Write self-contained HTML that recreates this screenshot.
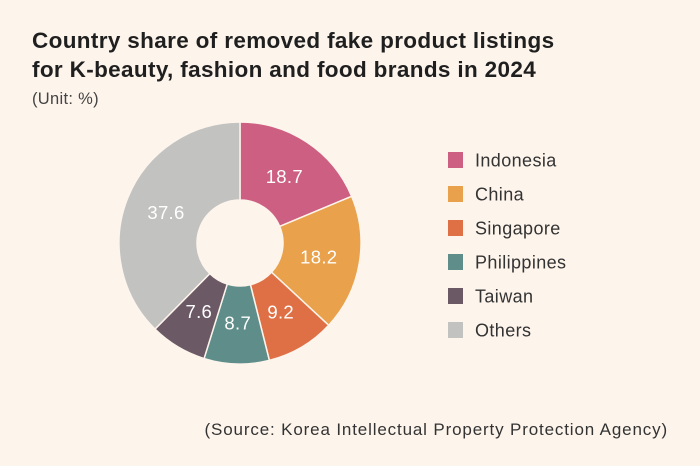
<!DOCTYPE html>
<html><head><meta charset="utf-8"><style>
body{margin:0;background:#fdf4ec;font-family:"Liberation Sans",sans-serif;}
#c{position:relative;width:700px;height:466px;background:#fdf4ec;overflow:hidden}
.t{position:absolute;left:32px;font-weight:bold;font-size:22.5px;letter-spacing:0.35px;color:#1f1f1f;line-height:29px}
</style></head><body>
<div id="c">
<div class="t" style="top:26px">Country share of removed fake product listings<br>for K-beauty, fashion and food brands in 2024</div>
<div style="position:absolute;left:32px;top:90px;font-size:16.5px;letter-spacing:0.3px;color:#444">(Unit: %)</div>
<svg id="s" width="700" height="466" style="position:absolute;left:0;top:0"></svg>
<div style="position:absolute;right:32px;top:420px;font-size:17px;letter-spacing:0.85px;color:#333;white-space:nowrap">(Source: Korea Intellectual Property Protection Agency)</div>
</div>
<script>
const categories=["Indonesia","China","Singapore","Philippines","Taiwan","Others"];
const values=[18.7,18.2,9.2,8.7,7.6,37.6];
const colors=["#cd5f82","#e9a14b","#df7046","#5f8d89","#6b5965","#c2c2c0"];
const svg=document.getElementById('s');const NS="http://www.w3.org/2000/svg";
const cx=240,cy=243,R=121,r=43,LR=80;
const total=values.reduce((a,b)=>a+b,0);
let a0=0;
function pt(rad,ang){return [cx+rad*Math.sin(ang),cy-rad*Math.cos(ang)];}
values.forEach((v,i)=>{
  const a1=a0+v/total*2*Math.PI;const lg=(a1-a0)>Math.PI?1:0;
  const [x0,y0]=pt(R,a0),[x1,y1]=pt(R,a1),[x2,y2]=pt(r,a1),[x3,y3]=pt(r,a0);
  const p=document.createElementNS(NS,'path');
  p.setAttribute('d',`M${x0},${y0}A${R},${R} 0 ${lg} 1 ${x1},${y1}L${x2},${y2}A${r},${r} 0 ${lg} 0 ${x3},${y3}Z`);
  p.setAttribute('fill',colors[i]);p.setAttribute('stroke','#fdf4ec');p.setAttribute('stroke-width','1.5');
  
  
  svg.appendChild(p);
  const m=(a0+a1)/2;const [lx,ly]=pt(LR,m);
  const t=document.createElementNS(NS,'text');
  t.setAttribute('x',lx);t.setAttribute('y',ly+6.5);t.setAttribute('text-anchor','middle');
  t.setAttribute('fill','#fff');t.setAttribute('font-size','18.5');t.setAttribute('font-family','Liberation Sans, sans-serif');
  t.setAttribute('letter-spacing','0.3');
  t.textContent=v;
  
  
  svg.appendChild(t);
  a0=a1;
});
categories.forEach((c,i)=>{
  const y=160+i*34;
  const g=document.createElementNS(NS,'g');
  
  
  const rc=document.createElementNS(NS,'rect');
  rc.setAttribute('x',448);rc.setAttribute('y',y-8);rc.setAttribute('width',15);rc.setAttribute('height',16);rc.setAttribute('fill',colors[i]);
  const t=document.createElementNS(NS,'text');
  t.setAttribute('x',475);t.setAttribute('y',y+6.5);t.setAttribute('font-size','18');t.setAttribute('letter-spacing','0.4');t.setAttribute('fill','#333');t.setAttribute('font-family','Liberation Sans, sans-serif');
  t.textContent=c;
  g.appendChild(rc);g.appendChild(t);svg.appendChild(g);
});
</script>
</body></html>
